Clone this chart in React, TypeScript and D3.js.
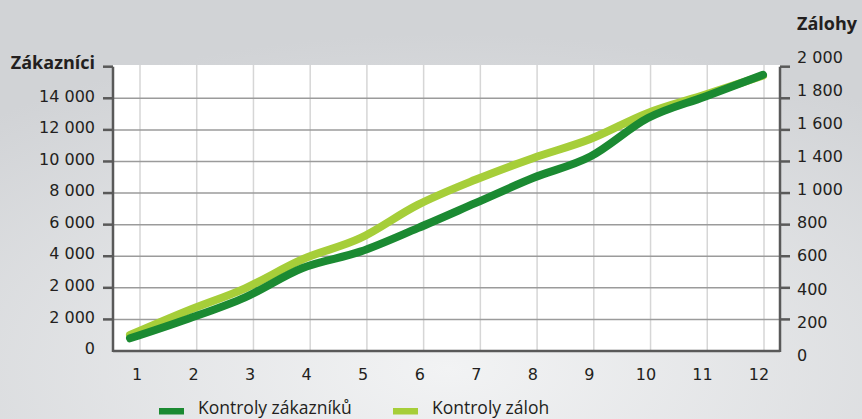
import { useEffect, useRef } from "react";
import * as d3 from "d3";

// ----- Data -----------------------------------------------------------------
const months = ["1", "2", "3", "4", "5", "6", "7", "8", "9", "10", "11", "12"];
const customerChecks = [805, 2030, 3400, 5260, 6290, 7780, 9360, 10950, 12310, 14750, 16120, 17490];
const depositChecks = [101, 255, 397, 581, 714, 925, 1084, 1221, 1342, 1507, 1623, 1743];
const leftTickLabels = ["0", "2 000", "2 000", "4 000", "6 000", "8 000", "10 000", "12 000", "14 000"];
const rightTickLabels = ["0", "200", "400", "600", "800", "1 000", "1 400", "1 600", "1 800", "2 000"];
const leftTitle = "Zákazníci";
const rightTitle = "Zálohy";
const seriesNames = ["Kontroly zákazníků", "Kontroly záloh"];

const W = 862;
const H = 419;
const DARK = "#1b8a32";
const LIGHT = "#a6ce39";
const FONT = "'Open Sans', 'Noto Sans', sans-serif";
const TICK_FONT = "'DejaVu Sans', Verdana, sans-serif";

const App = () => {
  const svgRef = useRef<SVGSVGElement | null>(null);

  useEffect(() => {
    const svg = d3.select(svgRef.current);
    svg.selectAll("*").remove();

    const plot = { left: 113, right: 780, top: 65, bottom: 351 };

    // ----- Background ------------------------------------------------------
    const defs = svg.append("defs");
    const grad = defs
      .append("radialGradient")
      .attr("id", "bg")
      .attr("cx", "52%")
      .attr("cy", "88%")
      .attr("r", "80%");
    grad.append("stop").attr("offset", "0%").attr("stop-color", "#f2f3f4");
    grad.append("stop").attr("offset", "100%").attr("stop-color", "#d1d3d6");
    svg.append("rect").attr("width", W).attr("height", H).attr("fill", "url(#bg)");

    svg
      .append("rect")
      .attr("x", plot.left)
      .attr("y", plot.top)
      .attr("width", plot.right - plot.left)
      .attr("height", plot.bottom - plot.top)
      .attr("fill", "#ffffff");

    // ----- Scales ----------------------------------------------------------
    const xData = d3.scalePoint<string>().domain(months).range([130, 763]);
    const xGrid = d3.scalePoint<string>().domain(months).range([140, 764]);
    const xLabel = d3.scalePoint<string>().domain(months).range([137, 759]);

    const yLeft = d3.scaleLinear().domain([0, 18000]).range([plot.bottom, 66.7]);
    const yRight = d3.scaleLinear().domain([0, 1800]).range([plot.bottom, 66.7]);
    const yRightLabel = d3
      .scalePoint<string>()
      .domain(rightTickLabels)
      .range([355, 57]);

    const leftTicks = d3.range(0, 18001, 2000);
    const rightTicks = d3.range(0, 1801, 200);

    // ----- Grid ------------------------------------------------------------
    svg
      .append("g")
      .selectAll("line")
      .data(months)
      .join("line")
      .attr("x1", (d) => xGrid(d) as number)
      .attr("x2", (d) => xGrid(d) as number)
      .attr("y1", plot.top)
      .attr("y2", plot.bottom)
      .attr("stroke", "#d6d6d6")
      .attr("stroke-width", 1.5);

    svg
      .append("g")
      .selectAll("line")
      .data(leftTicks.slice(1, -1))
      .join("line")
      .attr("x1", plot.left)
      .attr("x2", plot.right)
      .attr("y1", (d) => yLeft(d))
      .attr("y2", (d) => yLeft(d))
      .attr("stroke", "#9b9b9b")
      .attr("stroke-width", 1.5);

    // ----- Axes ------------------------------------------------------------
    const axisColor = "#595959";

    const leftAxis = svg.append("g");
    leftAxis
      .append("line")
      .attr("x1", plot.left)
      .attr("x2", plot.left)
      .attr("y1", yLeft(18000))
      .attr("y2", plot.bottom + 1)
      .attr("stroke", axisColor)
      .attr("stroke-width", 2.5);
    leftAxis
      .selectAll("line.tick")
      .data(leftTicks.slice(1))
      .join("line")
      .attr("class", "tick")
      .attr("x1", plot.left - 10)
      .attr("x2", plot.left)
      .attr("y1", (d) => yLeft(d))
      .attr("y2", (d) => yLeft(d))
      .attr("stroke", axisColor)
      .attr("stroke-width", 2.5);
    leftAxis
      .selectAll("text")
      .data(leftTickLabels)
      .join("text")
      .attr("x", 95)
      .attr("y", (_, i) => yLeft(leftTicks[i]) - 2.5)
      .attr("dy", "0.36em")
      .attr("text-anchor", "end")
      .attr("font-family", TICK_FONT)
      .attr("font-size", 16)
      .attr("fill", "#231f20")
      .text((d) => d);
    svg
      .append("text")
      .attr("x", 95)
      .attr("y", yLeft(18000) - 4)
      .attr("dy", "0.35em")
      .attr("text-anchor", "end")
      .attr("font-family", FONT)
      .attr("font-weight", "bold")
      .attr("font-size", 18)
      .attr("fill", "#231f20")
      .text(leftTitle);

    const rightAxis = svg.append("g");
    rightAxis
      .append("line")
      .attr("x1", plot.right)
      .attr("x2", plot.right)
      .attr("y1", yRight(1800))
      .attr("y2", plot.bottom + 1)
      .attr("stroke", axisColor)
      .attr("stroke-width", 2.5);
    rightAxis
      .selectAll("line.tick")
      .data(rightTicks.slice(1))
      .join("line")
      .attr("class", "tick")
      .attr("x1", plot.right)
      .attr("x2", plot.right + 10)
      .attr("y1", (d) => yRight(d))
      .attr("y2", (d) => yRight(d))
      .attr("stroke", axisColor)
      .attr("stroke-width", 2.5);
    rightAxis
      .selectAll("text")
      .data(rightTickLabels)
      .join("text")
      .attr("x", 797)
      .attr("y", (d) => yRightLabel(d) as number)
      .attr("dy", "0.36em")
      .attr("font-family", TICK_FONT)
      .attr("font-size", 16)
      .attr("fill", "#231f20")
      .text((d) => d);
    svg
      .append("text")
      .attr("x", 797)
      .attr("y", 24)
      .attr("dy", "0.35em")
      .attr("font-family", FONT)
      .attr("font-weight", "bold")
      .attr("font-size", 18)
      .attr("fill", "#231f20")
      .text(rightTitle);

    // bottom axis
    svg
      .append("line")
      .attr("x1", plot.left)
      .attr("x2", plot.right)
      .attr("y1", plot.bottom)
      .attr("y2", plot.bottom)
      .attr("stroke", axisColor)
      .attr("stroke-width", 2.5);
    svg
      .append("g")
      .selectAll("text")
      .data(months)
      .join("text")
      .attr("x", (d) => xLabel(d) as number)
      .attr("y", 374)
      .attr("dy", "0.36em")
      .attr("text-anchor", "middle")
      .attr("font-family", TICK_FONT)
      .attr("font-size", 16)
      .attr("fill", "#231f20")
      .text((d) => d);

    // ----- Lines -----------------------------------------------------------
    const lineLeft = d3
      .line<number>()
      .x((_, i) => xData(months[i]) as number)
      .y((d) => yLeft(d))
      .curve(d3.curveMonotoneX);
    const lineRight = d3
      .line<number>()
      .x((_, i) => xData(months[i]) as number)
      .y((d) => yRight(d))
      .curve(d3.curveMonotoneX);

    svg
      .append("path")
      .datum(depositChecks)
      .attr("fill", "none")
      .attr("stroke", LIGHT)
      .attr("stroke-width", 8)
      .attr("stroke-linecap", "round")
      .attr("stroke-linejoin", "round")
      .attr("d", lineRight);
    svg
      .append("path")
      .datum(customerChecks)
      .attr("fill", "none")
      .attr("stroke", DARK)
      .attr("stroke-width", 8)
      .attr("stroke-linecap", "round")
      .attr("stroke-linejoin", "round")
      .attr("d", lineLeft);

    // ----- Legend ----------------------------------------------------------
    const legendX = [159, 393];
    const legend = svg
      .append("g")
      .selectAll("g")
      .data(seriesNames)
      .join("g")
      .attr("transform", (_, i) => `translate(${legendX[i]},0)`);
    legend
      .append("rect")
      .attr("y", 408)
      .attr("width", 25)
      .attr("height", 6.5)
      .attr("fill", (_, i) => (i === 0 ? DARK : LIGHT));
    legend
      .append("text")
      .attr("x", 39)
      .attr("y", 414)
      .attr("font-family", FONT)
      .attr("font-size", 17.5)
      .attr("fill", "#231f20")
      .text((d) => d);
  }, []);

  return (
    <svg
      ref={svgRef}
      width={W}
      height={H}
      style={{ position: "absolute", left: 0, top: 0, display: "block" }}
    />
  );
};

export default App;
